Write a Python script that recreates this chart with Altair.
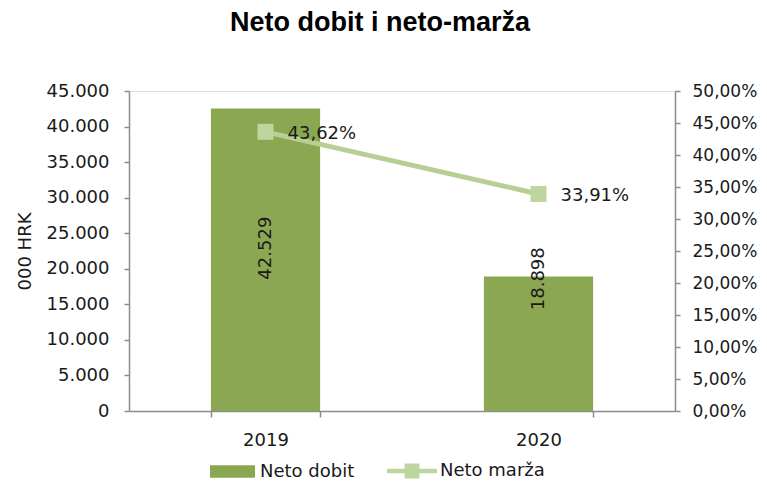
import altair as alt
import pandas as pd

years = ["2019", "2020"]
neto_dobit = [42529, 18898]
neto_marza = [0.4362, 0.3391]
bar_label_pos = [22900, 18600]

FONT = "DejaVu Sans"
BAR = "#8BA752"
LINE = "#B7CF94"
MARK = "#BDD59F"
AXIS = "#8C8C8C"
TXT = "#1a1a1a"

df = pd.DataFrame({
    "year": years,
    "dobit": neto_dobit,
    "marza": neto_marza,
    "lpos": bar_label_pos,
    "dobit_txt": [f"{v:,}".replace(",", ".") for v in neto_dobit],
    "marza_txt": [f"{v*100:.2f}%".replace(".", ",") for v in neto_marza],
    "s1": ["Neto dobit"] * 2,
    "s2": ["Neto marža"] * 2,
})

left_ticks = [5000 * i for i in range(10)]
right_ticks = [0.05 * i for i in range(11)]

xscale = alt.Scale(paddingInner=0.6, paddingOuter=0.3)
xaxis = alt.Axis(labelAngle=0, tickBand="extent", tickSize=6, labelPadding=14,
                 domainColor=AXIS, tickColor=AXIS, domainWidth=1.5, tickWidth=1.5,
                 labelFont=FONT, labelFontSize=18, labelColor=TXT, grid=False)
xenc = alt.X("year:N", title=None, scale=xscale, axis=xaxis)

yleft = alt.Scale(domain=[0, 45000], nice=False)
yright = alt.Scale(domain=[0, 0.5], nice=False)

left_axis = alt.Axis(values=left_ticks, orient="left",
                     labelExpr="replace(format(datum.value, ','), ',', '.')",
                     labelOverlap=False, labelBound=False, tickCount=10,
                     tickSize=5, labelPadding=15, domainColor=AXIS, tickColor=AXIS,
                     domainWidth=1.5, tickWidth=1.5, grid=False,
                     labelFont=FONT, labelFontSize=18, labelColor=TXT,
                     titleFont=FONT, titleFontSize=18, titleFontWeight="normal",
                     titleColor=TXT, titlePadding=12)
right_axis = alt.Axis(values=right_ticks, orient="right",
                      labelExpr="replace(format(datum.value, '.2%'), '.', ',')",
                      labelOverlap=False, labelBound=False, tickCount=11,
                      tickSize=5, labelPadding=12, domainColor=AXIS, tickColor=AXIS,
                      domainWidth=1.5, tickWidth=1.5, grid=False,
                      labelFont=FONT, labelFontSize=17, labelColor=TXT)

base = alt.Chart(df)

bars = base.mark_bar().encode(
    x=xenc,
    y=alt.Y("dobit:Q", scale=yleft, title="000 HRK", axis=left_axis),
    fill=alt.Fill("s1:N", scale=alt.Scale(domain=["Neto dobit"], range=[BAR]),
                  legend=alt.Legend(title=None, orient="none", legendX=81, legendY=358,
                                    symbolType="M-1,-0.28H1V0.28H-1Z", symbolSize=2025,
                                    symbolStrokeWidth=0, labelFont=FONT, labelFontSize=18,
                                    labelColor=TXT, labelOffset=5)),
)

bar_labels = base.mark_text(angle=270, font=FONT, fontSize=18, color=TXT,
                            baseline="middle", align="center").encode(
    x=xenc,
    y=alt.Y("lpos:Q", scale=yleft, title="000 HRK", axis=left_axis),
    text="dobit_txt:N",
)

left = alt.layer(bars, bar_labels)

line = base.mark_line(color=LINE, strokeWidth=5).encode(
    x=xenc,
    y=alt.Y("marza:Q", scale=yright, title=None, axis=right_axis),
)

points = base.mark_point(shape="square", filled=True, size=256, opacity=1).encode(
    x=xenc,
    y=alt.Y("marza:Q", scale=yright, title=None, axis=right_axis),
    fill=alt.Fill("s2:N", scale=alt.Scale(domain=["Neto marža"], range=[MARK]),
                  legend=alt.Legend(title=None, orient="none", legendX=258, legendY=355,
                                    symbolType="M-1,-0.09H1V0.09H-1Z M-0.3,-0.3H0.3V0.3H-0.3Z",
                                    symbolSize=2500, symbolStrokeWidth=0,
                                    labelFont=FONT, labelFontSize=18,
                                    labelColor=TXT, labelOffset=3)),
)

pct_labels = base.mark_text(font=FONT, fontSize=18, color=TXT, align="left",
                            baseline="middle", dx=22, dy=2).encode(
    x=xenc,
    y=alt.Y("marza:Q", scale=yright, title=None, axis=right_axis),
    text="marza_txt:N",
)

right = alt.layer(line, points, pct_labels)

chart = alt.layer(left, right).resolve_scale(
    y="independent", fill="independent"
).properties(
    width=546, height=320,
    autosize=alt.AutoSizeParams(type="none"),
    padding={"left": 121, "top": 83, "right": 84, "bottom": 72},
    title=alt.TitleParams("Neto dobit i neto-marža", font="Liberation Sans", fontSize=27,
                          fontWeight="bold", color="#000000", anchor="middle",
                          offset=45, dx=-22),
).configure_view(strokeWidth=0, stroke="transparent").configure(background="white")

chart.save("out.html", embed_options={"renderer": "svg", "actions": False})
